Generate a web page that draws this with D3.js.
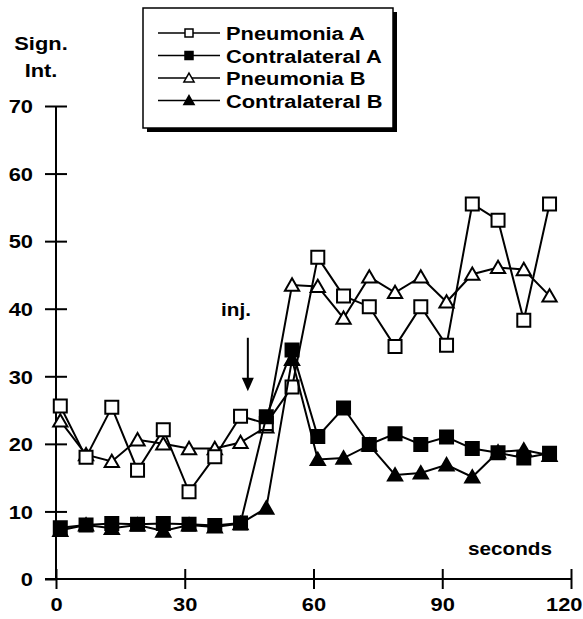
<!DOCTYPE html>
<html>
<head>
<meta charset="utf-8">
<style>
body { margin: 0; background: #fff; }
text {
  fill: #000;
  font-family: "Liberation Sans", Arial, sans-serif;
  font-weight: bold;
}
path.line {
  fill: none;
  stroke: #000;
  stroke-width: 2px;
}
.axis path, .axis line {
  stroke: #000;
  stroke-width: 2px;
}
</style>
<title></title>
</head>
<body>
<script src="https://cdn.jsdelivr.net/npm/d3@7"></script>
<script>

// sampling times (s)
var times = [1, 7, 13, 19, 25, 31, 37, 43, 49, 55, 61, 67, 73, 79, 85, 91, 97, 103, 109, 115];

var pneumoniaA = [25.6, 18.0, 25.4, 16.1, 22.1, 12.9, 18.1, 24.1, 23.0, 28.4, 47.6, 41.9, 40.3, 34.4, 40.3, 34.6, 55.5, 53.1, 38.3, 55.5];
var contralateralA = [7.6, 8.0, 8.2, 8.1, 8.2, 8.1, 7.9, 8.3, 24.0, 33.9, 21.1, 25.3, 19.9, 21.5, 19.9, 21.0, 19.3, 18.7, 17.9, 18.6];
var pneumoniaB = [23.4, 18.4, 17.4, 20.6, 20.0, 19.3, 19.3, 20.2, 22.5, 43.5, 43.3, 38.6, 44.7, 42.4, 44.7, 41.0, 45.1, 46.1, 45.8, 41.9];
var contralateralB = [7.2, 8.0, 7.5, 8.0, 7.1, 8.0, 7.7, 8.2, 10.5, 32.5, 17.7, 17.9, 19.8, 15.4, 15.7, 16.9, 15.1, 18.8, 19.1, 18.3];

var seriesNames = ["Pneumonia A", "Contralateral A", "Pneumonia B", "Contralateral B"];

var xTicks = [0, 30, 60, 90, 120];
var yTicks = [0, 10, 20, 30, 40, 50, 60, 70];

var injTime = 44.7;

var width = 583,
    height = 619;

var SX = 1.15; // the scanned lettering is wider than the font

var svg = d3.select("body").append("svg")
    .attr("width", width)
    .attr("height", height);

var x = d3.scaleLinear().domain([0, 120]).range([56, 571]);
var y = d3.scaleLinear().domain([0, 70]).range([579, 106]);

// axes
var xAxis = svg.append("g")
    .attr("class", "axis")
    .attr("transform", "translate(0," + y(0) + ")")
    .call(d3.axisBottom(x).tickValues(xTicks).tickSize(10).tickSizeOuter(0));
xAxis.select(".domain").attr("d", "M" + (x(0) - 11) + ",0H" + x(120));
xAxis.selectAll(".tick line").attr("y1", -10).attr("y2", 10);
xAxis.selectAll(".tick text")
    .attr("y", 19)
    .attr("dy", "0.71em")
    .attr("transform", "scale(" + SX + ",1)")
    .style("font-size", "19px")
    .style("font-family", null);
// last label sits against the right edge
xAxis.selectAll(".tick text").filter(function(d) { return d === 120; })
    .attr("text-anchor", "end")
    .attr("x", 11 / SX);

var yAxis = svg.append("g")
    .attr("class", "axis")
    .attr("transform", "translate(" + x(0) + ",0)")
    .call(d3.axisLeft(y).tickValues(yTicks).tickSize(11).tickSizeOuter(0));
yAxis.select(".domain").attr("d", "M0," + y(70) + "V" + (y(0) + 1));
yAxis.selectAll(".tick line").attr("x1", -11).attr("x2", 11);
yAxis.selectAll(".tick").filter(function(d) { return d === 0; }).select("line").attr("x2", 0);
yAxis.selectAll(".tick text")
    .attr("x", -23 / SX)
    .attr("dy", "0.36em")
    .attr("transform", "scale(" + SX + ",1)")
    .style("font-size", "19px")
    .style("font-family", null);

function label(txt, px, py, size, anchor) {
  svg.append("text")
      .attr("transform", "translate(" + px + "," + py + ") scale(" + SX + ",1)")
      .attr("text-anchor", anchor || "middle")
      .style("font-size", size + "px")
      .text(txt);
}

label("Sign.", 41, 50, 19);
label("Int.", 41, 77, 19);
label("seconds", 552, 555, 18, "end");
label("inj.", 236, 316, 18);

// injection arrow
svg.append("line")
    .attr("x1", x(injTime)).attr("x2", x(injTime))
    .attr("y1", y(35.7)).attr("y2", y(29.5))
    .attr("stroke", "#000").attr("stroke-width", 2);
svg.append("path")
    .attr("d", "M" + (x(injTime) - 6) + "," + y(29.8) + "L" + (x(injTime) + 6) + "," + y(29.8) +
               "L" + x(injTime) + "," + y(27.8) + "Z")
    .attr("fill", "#000");

// markers
var square = d3.symbol().type(d3.symbolSquare).size(169);
var triangle = d3.symbol().type(d3.symbolTriangle).size(88);

var series = [
  { name: seriesNames[2], values: pneumoniaB, sym: triangle, fill: "#fff" },
  { name: seriesNames[0], values: pneumoniaA, sym: square, fill: "#fff" },
  { name: seriesNames[3], values: contralateralB, sym: triangle, fill: "#000" },
  { name: seriesNames[1], values: contralateralA, sym: square, fill: "#000" }
];

var line = d3.line()
    .x(function(d) { return x(d.t); })
    .y(function(d) { return y(d.v); });

series.forEach(function(s) {
  var pts = times.map(function(t, i) { return { t: t, v: s.values[i] }; });
  svg.append("path")
      .attr("class", "line")
      .attr("d", line(pts));
  svg.append("g").selectAll("path")
      .data(pts)
      .enter().append("path")
      .attr("transform", function(d) { return "translate(" + x(d.t) + "," + (y(d.v) + (s.sym === triangle ? 1.5 : 0)) + ")"; })
      .attr("d", s.sym)
      .attr("fill", s.fill)
      .attr("stroke", "#000")
      .attr("stroke-width", 2);
});

// legend
var legend = svg.append("g");
legend.append("rect")
    .attr("x", 147).attr("y", 12)
    .attr("width", 250).attr("height", 120)
    .attr("fill", "#000");
legend.append("rect")
    .attr("x", 143).attr("y", 8)
    .attr("width", 250).attr("height", 120)
    .attr("fill", "#fff")
    .attr("stroke", "#000")
    .attr("stroke-width", 1.5);

var legendItems = [
  { name: seriesNames[0], sym: "square", fill: "#fff" },
  { name: seriesNames[1], sym: "square", fill: "#000" },
  { name: seriesNames[2], sym: "triangle", fill: "#fff" },
  { name: seriesNames[3], sym: "triangle", fill: "#000" }
];

var lsq = d3.symbol().type(d3.symbolSquare).size(64);
var ltri = d3.symbol().type(d3.symbolTriangle).size(45);

legendItems.forEach(function(item, i) {
  var cy = 33 + i * 22.5;
  legend.append("line")
      .attr("x1", 158).attr("x2", 220)
      .attr("y1", cy).attr("y2", cy)
      .attr("stroke", "#000").attr("stroke-width", 1.5);
  legend.append("path")
      .attr("transform", "translate(189," + (cy + (item.sym === "triangle" ? 1 : 0)) + ")")
      .attr("d", item.sym === "square" ? lsq : ltri)
      .attr("fill", item.fill)
      .attr("stroke", "#000")
      .attr("stroke-width", 1.5);
  legend.append("text")
      .attr("transform", "translate(226," + (cy + 7) + ") scale(" + SX + ",1)")
      .style("font-size", "19px")
      .text(item.name);
});

</script>
</body>
</html>
